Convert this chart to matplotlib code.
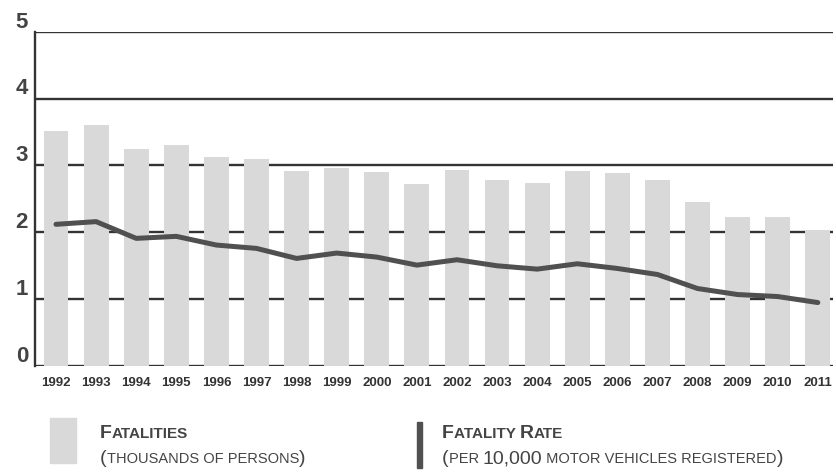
import numpy as np
import matplotlib
matplotlib.use("Agg")
import matplotlib.pyplot as plt

years = list(range(1992, 2012))
fatalities = [3.52, 3.60, 3.24, 3.31, 3.13, 3.09, 2.91, 2.96, 2.90, 2.73,
              2.93, 2.79, 2.74, 2.91, 2.89, 2.78, 2.45, 2.23, 2.23, 2.03]
rate = [2.12, 2.16, 1.91, 1.94, 1.81, 1.76, 1.61, 1.69, 1.63, 1.51,
        1.59, 1.50, 1.45, 1.53, 1.46, 1.37, 1.16, 1.07, 1.04, 0.95]
yticks = [0, 1, 2, 3, 4, 5]

plt.rcParams['font.family'] = ['Liberation Sans', 'DejaVu Sans']

fig = plt.figure(figsize=(8.37, 4.73), dpi=100)
ax = fig.add_axes([0.0418, 0.226, 0.953, 0.707])

grid_c = '#333333'
for v in yticks:
    ax.axhline(v, color=grid_c, lw=1.7, zorder=1)

ax.bar(years, fatalities, width=0.62, color='#d9d9d9', zorder=2)
ax.plot(years, rate, color='#505050', lw=3.6, solid_joinstyle='round',
        solid_capstyle='round', zorder=3)

ax.set_xlim(1991.476, 2011.37)
ax.set_ylim(0, 5)
for s in ['top', 'right', 'bottom']:
    ax.spines[s].set_visible(False)
ax.spines['left'].set_color(grid_c)
ax.spines['left'].set_linewidth(1.7)

ax.set_yticks(yticks)
ax.set_yticklabels([])
ax.tick_params(axis='y', length=0)
for v in yticks:
    ax.annotate(str(v), xy=(0, v), xycoords=('axes fraction', 'data'),
                xytext=(-5, 3), textcoords='offset points', ha='right',
                va='baseline', fontsize=16, fontweight='bold', color='#444444')

ax.set_xticks(years)
ax.set_xticklabels([str(y) for y in years], fontsize=9.5, fontweight='bold',
                   color='#333333')
ax.tick_params(axis='x', length=0, pad=8)

# legend
from matplotlib.patches import Rectangle
fig.patches.append(Rectangle((50 / 837, 1 - 463 / 473), 26 / 837, 45 / 473,
                             transform=fig.transFigure, color='#d9d9d9'))
fig.patches.append(Rectangle((417 / 837, 1 - 468 / 473), 5 / 837, 46 / 473,
                             transform=fig.transFigure, color='#505050'))

renderer = fig.canvas.get_renderer()


def caps_text(x, y, parts, weight):
    x = x / 837
    y = 1 - y / 473
    for s, size in parts:
        t = fig.text(x, y, s, fontsize=size, fontweight=weight, va='baseline',
                     ha='left', color='#444444')
        bb = t.get_window_extent(renderer)
        x = fig.transFigure.inverted().transform((bb.x1, bb.y0))[0]


caps_text(100, 438, [('F', 14), ('ATALITIES', 11)], 'bold')
caps_text(100, 463, [('(', 14), ('THOUSANDS OF PERSONS', 10.5), (')', 14)], 'normal')
caps_text(442, 438, [('F', 14), ('ATALITY ', 11), ('R', 14), ('ATE', 11)], 'bold')
caps_text(442, 463, [('(', 14), ('PER ', 10.5), ('10,000', 14),
                     (' MOTOR VEHICLES REGISTERED', 10.5), (')', 14)], 'normal')

fig.savefig('out.png', dpi=100)
